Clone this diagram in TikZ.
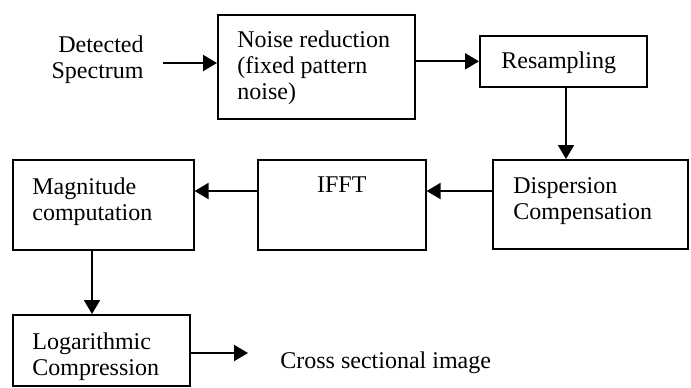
\documentclass[tikz,border=0pt]{standalone}
\usepackage{fontspec}
\setmainfont{Liberation Serif}
\usepackage{tikz}
\usetikzlibrary{arrows.meta}
\tikzset{
  blk/.style={draw, line width=0.8pt, inner sep=0pt, anchor=north west},
  txt/.style={inner sep=0pt, font=\fontsize{12}{13}\selectfont, align=left},
  flow/.style={line width=1pt, -{Triangle[length=7pt,width=8pt]}}
}
\begin{document}
\begin{tikzpicture}[x=0.5pt,y=-0.5pt]
    \useasboundingbox (0,0) rectangle (691,387);
    \node[blk, minimum width=98.5pt, minimum height=52pt] (nr) at (217,14) {};
    \node[blk, minimum width=83.5pt, minimum height=25.5pt] (rs) at (479,35) {};
    \node[blk, minimum width=97.5pt, minimum height=44.5pt] (dc) at (492,159) {};
    \node[blk, minimum width=84pt, minimum height=45pt] (ifft) at (257,159) {};
    \node[blk, minimum width=90.5pt, minimum height=45pt] (mag) at (12,159) {};
    \node[blk, minimum width=88.5pt, minimum height=35.5pt] (log) at (12,314) {};
    % base anchor of a multi-line node sits on its last line
    \node[txt, align=right, anchor=base east] (in) at (144,78) {Detected\\Spectrum};
    \node[txt, anchor=base west] at ([xshift=10pt,yshift=-42.5pt]nr.north west) {Noise reduction\\(fixed pattern\\noise)};
    \node[txt, anchor=base west] at ([xshift=11pt,yshift=-16.5pt]rs.north west) {Resampling};
    \node[txt, anchor=base west] at ([xshift=10.5pt,yshift=-30pt]dc.north west) {Dispersion\\Compensation};
    \node[txt, anchor=base] at ([yshift=-16.5pt]ifft.north) {IFFT};
    \node[txt, anchor=base west] at ([xshift=10pt,yshift=-30.5pt]mag.north west) {Magnitude\\computation};
    \node[txt, anchor=base west] at ([xshift=10pt,yshift=-30.5pt]log.north west) {Logarithmic\\Compression};
    \node[txt, anchor=base west] (out) at (280,368) {Cross sectional image};
    \coordinate (inr) at (163,63);
    \coordinate (outl) at (248,353);
    \draw[flow] (inr) -- (inr -| nr.west);
    \draw[flow] (nr.east |- rs.west) -- (rs.west);
    \draw[flow] (rs.south -| 566,0) -- (dc.north -| 566,0);
    \draw[flow] (dc.west |- 0,191) -- (ifft.east |- 0,191);
    \draw[flow] (ifft.west |- 0,191) -- (mag.east |- 0,191);
    \draw[flow] (mag.south -| 92,0) -- (log.north -| 92,0);
    \draw[flow] (log.east |- outl) -- (outl);
\end{tikzpicture}
\end{document}
